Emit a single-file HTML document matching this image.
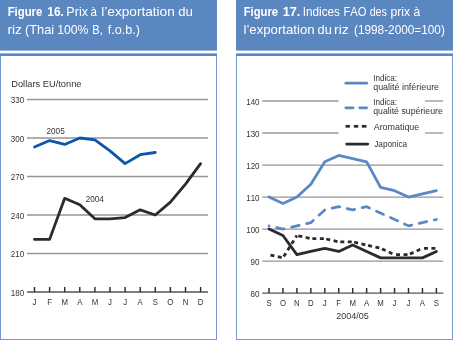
<!DOCTYPE html>
<html><head><meta charset="utf-8"><style>
html,body{margin:0;padding:0;background:#fff;width:453px;height:340px;overflow:hidden}
svg{display:block;font-family:"Liberation Sans", sans-serif;will-change:transform;font-kerning:none}
</style></head><body>
<svg width="453" height="340" viewBox="0 0 453 340">
<rect x="0" y="0" width="217" height="50.6" fill="#5b87c1"/>
<rect x="0" y="53.4" width="217" height="2.6" fill="#5b87c1"/>
<rect x="0" y="55" width="1" height="285" fill="#6f99cf"/>
<rect x="216" y="55" width="1" height="285" fill="#6f99cf"/>
<rect x="0" y="339" width="217" height="1" fill="#6f99cf"/>
<rect x="236" y="0" width="217" height="50.6" fill="#5b87c1"/>
<rect x="236" y="53.4" width="217" height="2.6" fill="#5b87c1"/>
<rect x="236" y="55" width="1" height="285" fill="#6f99cf"/>
<rect x="452" y="55" width="1" height="285" fill="#6f99cf"/>
<rect x="236" y="339" width="217" height="1" fill="#6f99cf"/>
<text x="7.64" y="16.2" font-size="12.4" fill="#fff" font-weight="bold" textLength="34.75" lengthAdjust="spacingAndGlyphs">Figure</text>
<text x="47.25" y="16.2" font-size="12.4" fill="#fff" font-weight="bold" textLength="16.57" lengthAdjust="spacingAndGlyphs">16.</text>
<text x="66.37" y="16.2" font-size="12.2" fill="#fff" textLength="21.67" lengthAdjust="spacingAndGlyphs">Prix</text>
<text x="90.62" y="16.2" font-size="12.2" fill="#fff" textLength="6.46" lengthAdjust="spacingAndGlyphs">à</text>
<text x="101.28" y="16.2" font-size="12.2" fill="#fff" textLength="73.50" lengthAdjust="spacingAndGlyphs">l’exportation</text>
<text x="178.25" y="16.2" font-size="12.2" fill="#fff" textLength="14.63" lengthAdjust="spacingAndGlyphs">du</text>
<text x="7.49" y="33.6" font-size="12.2" fill="#fff" textLength="14.38" lengthAdjust="spacingAndGlyphs">riz</text>
<text x="24.90" y="33.6" font-size="12.2" fill="#fff" textLength="29.26" lengthAdjust="spacingAndGlyphs">(Thai</text>
<text x="57.17" y="33.6" font-size="12.2" fill="#fff" textLength="31.27" lengthAdjust="spacingAndGlyphs">100%</text>
<text x="92.34" y="33.6" font-size="12.2" fill="#fff" textLength="10.41" lengthAdjust="spacingAndGlyphs">B,</text>
<text x="107.72" y="33.6" font-size="12.2" fill="#fff" textLength="32.26" lengthAdjust="spacingAndGlyphs">f.o.b.)</text>
<text x="243.65" y="16.2" font-size="12.4" fill="#fff" font-weight="bold" textLength="34.44" lengthAdjust="spacingAndGlyphs">Figure</text>
<text x="282.70" y="16.2" font-size="12.4" fill="#fff" font-weight="bold" textLength="17.68" lengthAdjust="spacingAndGlyphs">17.</text>
<text x="302.82" y="16.2" font-size="12.2" fill="#fff" textLength="37.10" lengthAdjust="spacingAndGlyphs">Indices</text>
<text x="343.48" y="16.2" font-size="12.2" fill="#fff" textLength="23.16" lengthAdjust="spacingAndGlyphs">FAO</text>
<text x="369.65" y="16.2" font-size="12.2" fill="#fff" textLength="17.24" lengthAdjust="spacingAndGlyphs">des</text>
<text x="390.52" y="16.2" font-size="12.2" fill="#fff" textLength="19.51" lengthAdjust="spacingAndGlyphs">prix</text>
<text x="413.39" y="16.2" font-size="12.2" fill="#fff" textLength="6.71" lengthAdjust="spacingAndGlyphs">à</text>
<text x="243.51" y="33.6" font-size="12.2" fill="#fff" textLength="71.04" lengthAdjust="spacingAndGlyphs">l’exportation</text>
<text x="317.56" y="33.6" font-size="12.2" fill="#fff" textLength="14.29" lengthAdjust="spacingAndGlyphs">du</text>
<text x="334.03" y="33.6" font-size="12.2" fill="#fff" textLength="14.80" lengthAdjust="spacingAndGlyphs">riz</text>
<text x="353.97" y="33.6" font-size="12.2" fill="#fff" textLength="90.86" lengthAdjust="spacingAndGlyphs">(1998-2000=100)</text>
<text x="11.2" y="87.3" font-size="9.2" text-anchor="start" fill="#333333" font-weight="normal" textLength="70.3" lengthAdjust="spacingAndGlyphs">Dollars EU/tonne</text>
<line x1="27" y1="253.50" x2="208" y2="253.50" stroke="#969696" stroke-width="1.3"/>
<text x="24.2" y="257.4001" font-size="9.2" text-anchor="end" fill="#333333" font-weight="normal" textLength="13.4" lengthAdjust="spacingAndGlyphs">210</text>
<line x1="27" y1="215.00" x2="208" y2="215.00" stroke="#969696" stroke-width="1.3"/>
<text x="24.2" y="218.9002" font-size="9.2" text-anchor="end" fill="#333333" font-weight="normal" textLength="13.4" lengthAdjust="spacingAndGlyphs">240</text>
<line x1="27" y1="176.50" x2="208" y2="176.50" stroke="#969696" stroke-width="1.3"/>
<text x="24.2" y="180.4003" font-size="9.2" text-anchor="end" fill="#333333" font-weight="normal" textLength="13.4" lengthAdjust="spacingAndGlyphs">270</text>
<line x1="27" y1="138.00" x2="208" y2="138.00" stroke="#969696" stroke-width="1.3"/>
<text x="24.2" y="141.9004" font-size="9.2" text-anchor="end" fill="#333333" font-weight="normal" textLength="13.4" lengthAdjust="spacingAndGlyphs">300</text>
<line x1="27" y1="99.50" x2="208" y2="99.50" stroke="#969696" stroke-width="1.3"/>
<text x="24.2" y="103.4005" font-size="9.2" text-anchor="end" fill="#333333" font-weight="normal" textLength="13.4" lengthAdjust="spacingAndGlyphs">330</text>
<line x1="27" y1="292.00" x2="208" y2="292.00" stroke="#555555" stroke-width="1.4"/>
<text x="24.2" y="295.9" font-size="9.2" text-anchor="end" fill="#333333" font-weight="normal" textLength="13.4" lengthAdjust="spacingAndGlyphs">180</text>
<line x1="34.50" y1="287.0" x2="34.50" y2="292.00" stroke="#2b2b2b" stroke-width="1.45"/>
<text x="34.50" y="304.7" font-size="9.2" text-anchor="middle" fill="#333333" font-weight="normal" textLength="3.91" lengthAdjust="spacingAndGlyphs">J</text>
<line x1="49.60" y1="287.0" x2="49.60" y2="292.00" stroke="#2b2b2b" stroke-width="1.45"/>
<text x="49.60" y="304.7" font-size="9.2" text-anchor="middle" fill="#333333" font-weight="normal" textLength="4.78" lengthAdjust="spacingAndGlyphs">F</text>
<line x1="64.70" y1="287.0" x2="64.70" y2="292.00" stroke="#2b2b2b" stroke-width="1.45"/>
<text x="64.70" y="304.7" font-size="9.2" text-anchor="middle" fill="#333333" font-weight="normal" textLength="6.51" lengthAdjust="spacingAndGlyphs">M</text>
<line x1="79.80" y1="287.0" x2="79.80" y2="292.00" stroke="#2b2b2b" stroke-width="1.45"/>
<text x="79.80" y="304.7" font-size="9.2" text-anchor="middle" fill="#333333" font-weight="normal" textLength="5.22" lengthAdjust="spacingAndGlyphs">A</text>
<line x1="94.90" y1="287.0" x2="94.90" y2="292.00" stroke="#2b2b2b" stroke-width="1.45"/>
<text x="94.90" y="304.7" font-size="9.2" text-anchor="middle" fill="#333333" font-weight="normal" textLength="6.51" lengthAdjust="spacingAndGlyphs">M</text>
<line x1="110.00" y1="287.0" x2="110.00" y2="292.00" stroke="#2b2b2b" stroke-width="1.45"/>
<text x="110.00" y="304.7" font-size="9.2" text-anchor="middle" fill="#333333" font-weight="normal" textLength="3.91" lengthAdjust="spacingAndGlyphs">J</text>
<line x1="125.10" y1="287.0" x2="125.10" y2="292.00" stroke="#2b2b2b" stroke-width="1.45"/>
<text x="125.10" y="304.7" font-size="9.2" text-anchor="middle" fill="#333333" font-weight="normal" textLength="3.91" lengthAdjust="spacingAndGlyphs">J</text>
<line x1="140.20" y1="287.0" x2="140.20" y2="292.00" stroke="#2b2b2b" stroke-width="1.45"/>
<text x="140.20" y="304.7" font-size="9.2" text-anchor="middle" fill="#333333" font-weight="normal" textLength="5.22" lengthAdjust="spacingAndGlyphs">A</text>
<line x1="155.30" y1="287.0" x2="155.30" y2="292.00" stroke="#2b2b2b" stroke-width="1.45"/>
<text x="155.30" y="304.7" font-size="9.2" text-anchor="middle" fill="#333333" font-weight="normal" textLength="5.22" lengthAdjust="spacingAndGlyphs">S</text>
<line x1="170.40" y1="287.0" x2="170.40" y2="292.00" stroke="#2b2b2b" stroke-width="1.45"/>
<text x="170.40" y="304.7" font-size="9.2" text-anchor="middle" fill="#333333" font-weight="normal" textLength="6.08" lengthAdjust="spacingAndGlyphs">O</text>
<line x1="185.50" y1="287.0" x2="185.50" y2="292.00" stroke="#2b2b2b" stroke-width="1.45"/>
<text x="185.50" y="304.7" font-size="9.2" text-anchor="middle" fill="#333333" font-weight="normal" textLength="5.65" lengthAdjust="spacingAndGlyphs">N</text>
<line x1="200.60" y1="287.0" x2="200.60" y2="292.00" stroke="#2b2b2b" stroke-width="1.45"/>
<text x="200.60" y="304.7" font-size="9.2" text-anchor="middle" fill="#333333" font-weight="normal" textLength="5.65" lengthAdjust="spacingAndGlyphs">D</text>
<polyline points="34.50,239.38 49.60,239.38 64.70,198.32 79.80,204.73 94.90,218.85 110.00,218.85 125.10,217.57 140.20,209.87 155.30,215.00 170.40,202.17 185.50,184.20 200.60,163.67" fill="none" stroke="#2b2b2b" stroke-width="2.8" stroke-linejoin="round" stroke-linecap="round"/>
<polyline points="34.50,146.98 49.60,140.57 64.70,144.42 79.80,138.00 94.90,139.93 110.00,150.83 125.10,163.67 140.20,154.68 155.30,152.50" fill="none" stroke="#0e57a6" stroke-width="2.8" stroke-linejoin="round" stroke-linecap="round"/>
<text x="46.5" y="133.9" font-size="9.2" text-anchor="start" fill="#333333" font-weight="normal" textLength="18.2" lengthAdjust="spacingAndGlyphs">2005</text>
<text x="85.7" y="201.6" font-size="9.2" text-anchor="start" fill="#333333" font-weight="normal" textLength="18.2" lengthAdjust="spacingAndGlyphs">2004</text>
<line x1="262.3" y1="261.08" x2="443.3" y2="261.08" stroke="#969696" stroke-width="1.3"/>
<text x="259.5" y="264.88300000000004" font-size="9.2" text-anchor="end" fill="#333333" font-weight="normal" textLength="8.9" lengthAdjust="spacingAndGlyphs">90</text>
<line x1="262.3" y1="229.07" x2="443.3" y2="229.07" stroke="#969696" stroke-width="1.3"/>
<text x="259.5" y="232.86600000000004" font-size="9.2" text-anchor="end" fill="#333333" font-weight="normal" textLength="13.2" lengthAdjust="spacingAndGlyphs">100</text>
<line x1="262.3" y1="197.05" x2="443.3" y2="197.05" stroke="#969696" stroke-width="1.3"/>
<text x="259.5" y="200.84900000000005" font-size="9.2" text-anchor="end" fill="#333333" font-weight="normal" textLength="13.2" lengthAdjust="spacingAndGlyphs">110</text>
<line x1="262.3" y1="165.03" x2="443.3" y2="165.03" stroke="#969696" stroke-width="1.3"/>
<text x="259.5" y="168.83200000000002" font-size="9.2" text-anchor="end" fill="#333333" font-weight="normal" textLength="13.2" lengthAdjust="spacingAndGlyphs">120</text>
<line x1="262.3" y1="133.02" x2="338.5" y2="133.02" stroke="#969696" stroke-width="1.3"/>
<line x1="425" y1="133.02" x2="443.3" y2="133.02" stroke="#969696" stroke-width="1.3"/>
<text x="259.5" y="136.81500000000003" font-size="9.2" text-anchor="end" fill="#333333" font-weight="normal" textLength="13.2" lengthAdjust="spacingAndGlyphs">130</text>
<line x1="262.3" y1="101.00" x2="338.5" y2="101.00" stroke="#969696" stroke-width="1.3"/>
<line x1="425" y1="101.00" x2="443.3" y2="101.00" stroke="#969696" stroke-width="1.3"/>
<text x="259.5" y="104.79800000000002" font-size="9.2" text-anchor="end" fill="#333333" font-weight="normal" textLength="13.2" lengthAdjust="spacingAndGlyphs">140</text>
<line x1="262.3" y1="293.10" x2="443.3" y2="293.10" stroke="#555555" stroke-width="1.4"/>
<text x="259.5" y="296.90000000000003" font-size="9.2" text-anchor="end" fill="#333333" font-weight="normal" textLength="8.9" lengthAdjust="spacingAndGlyphs">80</text>
<line x1="269.00" y1="288.0" x2="269.00" y2="293.10" stroke="#2b2b2b" stroke-width="1.45"/>
<text x="269.00" y="305.5" font-size="9.2" text-anchor="middle" fill="#333333" font-weight="normal" textLength="5.22" lengthAdjust="spacingAndGlyphs">S</text>
<line x1="282.95" y1="288.0" x2="282.95" y2="293.10" stroke="#2b2b2b" stroke-width="1.45"/>
<text x="282.95" y="305.5" font-size="9.2" text-anchor="middle" fill="#333333" font-weight="normal" textLength="6.08" lengthAdjust="spacingAndGlyphs">O</text>
<line x1="296.90" y1="288.0" x2="296.90" y2="293.10" stroke="#2b2b2b" stroke-width="1.45"/>
<text x="296.90" y="305.5" font-size="9.2" text-anchor="middle" fill="#333333" font-weight="normal" textLength="5.65" lengthAdjust="spacingAndGlyphs">N</text>
<line x1="310.85" y1="288.0" x2="310.85" y2="293.10" stroke="#2b2b2b" stroke-width="1.45"/>
<text x="310.85" y="305.5" font-size="9.2" text-anchor="middle" fill="#333333" font-weight="normal" textLength="5.65" lengthAdjust="spacingAndGlyphs">D</text>
<line x1="324.80" y1="288.0" x2="324.80" y2="293.10" stroke="#2b2b2b" stroke-width="1.45"/>
<text x="324.80" y="305.5" font-size="9.2" text-anchor="middle" fill="#333333" font-weight="normal" textLength="3.91" lengthAdjust="spacingAndGlyphs">J</text>
<line x1="338.75" y1="288.0" x2="338.75" y2="293.10" stroke="#2b2b2b" stroke-width="1.45"/>
<text x="338.75" y="305.5" font-size="9.2" text-anchor="middle" fill="#333333" font-weight="normal" textLength="4.78" lengthAdjust="spacingAndGlyphs">F</text>
<line x1="352.70" y1="288.0" x2="352.70" y2="293.10" stroke="#2b2b2b" stroke-width="1.45"/>
<text x="352.70" y="305.5" font-size="9.2" text-anchor="middle" fill="#333333" font-weight="normal" textLength="6.51" lengthAdjust="spacingAndGlyphs">M</text>
<line x1="366.65" y1="288.0" x2="366.65" y2="293.10" stroke="#2b2b2b" stroke-width="1.45"/>
<text x="366.65" y="305.5" font-size="9.2" text-anchor="middle" fill="#333333" font-weight="normal" textLength="5.22" lengthAdjust="spacingAndGlyphs">A</text>
<line x1="380.60" y1="288.0" x2="380.60" y2="293.10" stroke="#2b2b2b" stroke-width="1.45"/>
<text x="380.60" y="305.5" font-size="9.2" text-anchor="middle" fill="#333333" font-weight="normal" textLength="6.51" lengthAdjust="spacingAndGlyphs">M</text>
<line x1="394.55" y1="288.0" x2="394.55" y2="293.10" stroke="#2b2b2b" stroke-width="1.45"/>
<text x="394.55" y="305.5" font-size="9.2" text-anchor="middle" fill="#333333" font-weight="normal" textLength="3.91" lengthAdjust="spacingAndGlyphs">J</text>
<line x1="408.50" y1="288.0" x2="408.50" y2="293.10" stroke="#2b2b2b" stroke-width="1.45"/>
<text x="408.50" y="305.5" font-size="9.2" text-anchor="middle" fill="#333333" font-weight="normal" textLength="3.91" lengthAdjust="spacingAndGlyphs">J</text>
<line x1="422.45" y1="288.0" x2="422.45" y2="293.10" stroke="#2b2b2b" stroke-width="1.45"/>
<text x="422.45" y="305.5" font-size="9.2" text-anchor="middle" fill="#333333" font-weight="normal" textLength="5.22" lengthAdjust="spacingAndGlyphs">A</text>
<line x1="436.40" y1="288.0" x2="436.40" y2="293.10" stroke="#2b2b2b" stroke-width="1.45"/>
<text x="436.40" y="305.5" font-size="9.2" text-anchor="middle" fill="#333333" font-weight="normal" textLength="5.22" lengthAdjust="spacingAndGlyphs">S</text>
<text x="352.5" y="318.6" font-size="9.2" text-anchor="middle" fill="#333333" font-weight="normal" textLength="32.6" lengthAdjust="spacingAndGlyphs">2004/05</text>
<polyline points="269.00,197.05 282.95,203.45 296.90,197.05 310.85,184.24 324.80,161.83 338.75,155.43 352.70,158.63 366.65,161.83 380.60,187.44 394.55,190.65 408.50,197.05 422.45,193.85 436.40,190.65" fill="none" stroke="#5b88c4" stroke-width="2.8" stroke-linejoin="round" stroke-linecap="round"/>
<polyline points="269.00,225.86 282.95,229.07 296.90,225.86 310.85,222.66 324.80,209.86 338.75,206.65 352.70,209.86 366.65,206.65 380.60,213.06 394.55,219.46 408.50,225.86 422.45,222.66 436.40,219.46" fill="none" stroke="#5b88c4" stroke-width="2.7" stroke-linejoin="round" stroke-linecap="round" stroke-dasharray="7.8,7.6" stroke-dashoffset="7.6"/>
<path d="M269.00,254.68 L282.95,257.88 M282.95,257.88 L296.90,235.47 M296.90,235.47 L310.85,238.67 M310.85,238.67 L324.80,238.67 M324.80,238.67 L338.75,241.87 M338.75,241.87 L352.70,241.87 M352.70,241.87 L366.65,245.07 M366.65,245.07 L380.60,248.28 M380.60,248.28 L394.55,254.68 M394.55,254.68 L408.50,254.68 M408.50,254.68 L422.45,248.28 M422.45,248.28 L436.40,248.28" fill="none" stroke="#2b2b2b" stroke-width="2.8" stroke-dasharray="4,3.5" stroke-dashoffset="6"/>
<polyline points="269.00,229.07 282.95,235.47 296.90,254.68 310.85,251.48 324.80,248.28 338.75,251.48 352.70,245.07 366.65,251.48 380.60,257.88 394.55,257.88 408.50,257.88 422.45,257.88 436.40,251.48" fill="none" stroke="#2b2b2b" stroke-width="2.8" stroke-linejoin="round" stroke-linecap="round"/>
<line x1="345.8" y1="83.2" x2="366.7" y2="83.2" stroke="#5b88c4" stroke-width="2.7" stroke-linecap="round"/>
<line x1="345.8" y1="107.8" x2="353.1" y2="107.8" stroke="#5b88c4" stroke-width="2.7" stroke-linecap="round"/>
<line x1="359.7" y1="107.8" x2="366.7" y2="107.8" stroke="#5b88c4" stroke-width="2.7" stroke-linecap="round"/>
<line x1="345.5" y1="126.3" x2="349.9" y2="126.3" stroke="#2b2b2b" stroke-width="2.7"/>
<line x1="353.9" y1="126.3" x2="358.3" y2="126.3" stroke="#2b2b2b" stroke-width="2.7"/>
<line x1="361.8" y1="126.3" x2="366.5" y2="126.3" stroke="#2b2b2b" stroke-width="2.7"/>
<line x1="346.7" y1="144.1" x2="367.7" y2="144.1" stroke="#2b2b2b" stroke-width="2.9" stroke-linecap="round"/>
<text x="373.2" y="80.7" font-size="9.2" text-anchor="start" fill="#333333" font-weight="normal" textLength="23.9" lengthAdjust="spacingAndGlyphs">Indica:</text>
<text x="373.2" y="90.4" font-size="9.2" text-anchor="start" fill="#333333" font-weight="normal" textLength="65.9" lengthAdjust="spacingAndGlyphs">qualité inférieure</text>
<text x="373.2" y="105.2" font-size="9.2" text-anchor="start" fill="#333333" font-weight="normal" textLength="23.9" lengthAdjust="spacingAndGlyphs">Indica:</text>
<text x="373.2" y="114.3" font-size="9.2" text-anchor="start" fill="#333333" font-weight="normal" textLength="69.6" lengthAdjust="spacingAndGlyphs">qualité supérieure</text>
<text x="373.7" y="129.9" font-size="9.2" text-anchor="start" fill="#333333" font-weight="normal" textLength="45.6" lengthAdjust="spacingAndGlyphs">Aromatique</text>
<text x="374.2" y="147.2" font-size="9.2" text-anchor="start" fill="#333333" font-weight="normal" textLength="33" lengthAdjust="spacingAndGlyphs">Japonica</text>
</svg>
</body></html>
